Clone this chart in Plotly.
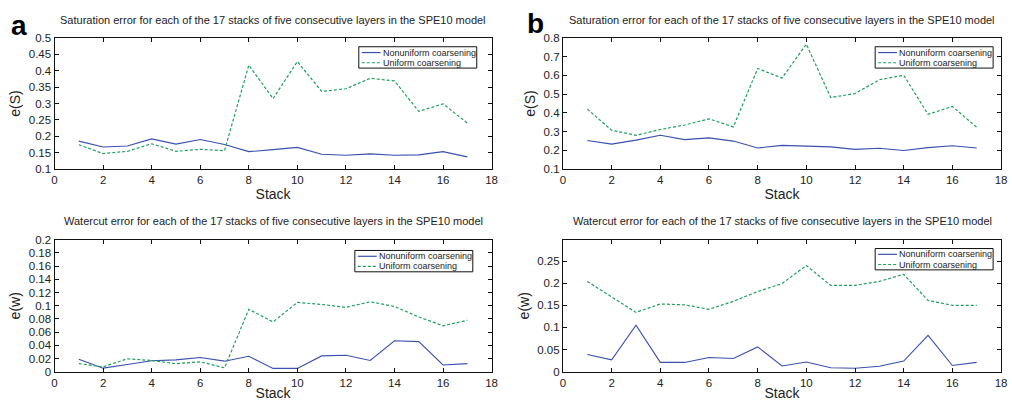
import plotly.graph_objects as go

stacks = list(range(1, 18))

# Saturation error, panel a
sat_a_nonuniform = [0.185, 0.167, 0.170, 0.192, 0.176, 0.190, 0.175, 0.153, 0.159, 0.166,
                    0.145, 0.142, 0.146, 0.142, 0.143, 0.153, 0.137]
sat_a_uniform = [0.174, 0.147, 0.154, 0.177, 0.154, 0.160, 0.156, 0.417, 0.315, 0.428,
                 0.337, 0.345, 0.377, 0.369, 0.276, 0.299, 0.240]

# Saturation error, panel b
sat_b_nonuniform = [0.252, 0.233, 0.254, 0.280, 0.257, 0.266, 0.249, 0.212, 0.226, 0.224,
                    0.218, 0.205, 0.211, 0.199, 0.214, 0.224, 0.212]
sat_b_uniform = [0.420, 0.307, 0.280, 0.311, 0.335, 0.368, 0.325, 0.637, 0.586, 0.767,
                 0.482, 0.503, 0.577, 0.601, 0.392, 0.434, 0.323]

# Watercut error, panel a
wc_a_nonuniform = [0.019, 0.0054, 0.011, 0.0167, 0.018, 0.0216, 0.016, 0.0235, 0.005, 0.005,
                   0.024, 0.025, 0.017, 0.047, 0.0456, 0.0103, 0.0123]
wc_a_uniform = [0.0123, 0.0074, 0.0196, 0.017, 0.0123, 0.015, 0.0059, 0.0946, 0.0755, 0.105,
                0.102, 0.0975, 0.106, 0.099, 0.083, 0.0696, 0.078]

# Watercut error, panel b
wc_b_nonuniform = [0.039, 0.027, 0.105, 0.021, 0.021, 0.032, 0.030, 0.056, 0.013, 0.022,
                   0.009, 0.008, 0.0125, 0.024, 0.082, 0.014, 0.021]
wc_b_uniform = [0.204, 0.168, 0.134, 0.153, 0.151, 0.141, 0.159, 0.181, 0.199, 0.240,
                0.195, 0.195, 0.204, 0.220, 0.161, 0.150, 0.150]

series_names = ["Nonuniform coarsening", "Uniform coarsening"]
sat_title = "Saturation error for each of the 17 stacks of five consecutive layers in the SPE10 model"
wc_title = "Watercut error for each of the 17 stacks of five consecutive layers in the SPE10 model"

BLUE = "#3a4fae"
GREEN = "#1f9e5e"
DASH = "3px,2px"
FONT = "Liberation Sans, Arial, Helvetica, sans-serif"
W, H = 1012, 401

# (x-axis id, y-axis id, nonuniform, uniform, y range, y ticks, y title, title)
panels = [
    ("x", "y", sat_a_nonuniform, sat_a_uniform, [0.1, 0.5],
     [0.1, 0.15, 0.2, 0.25, 0.3, 0.35, 0.4, 0.45, 0.5], "e(S)", sat_title),
    ("x2", "y2", sat_b_nonuniform, sat_b_uniform, [0.1, 0.8],
     [0.1, 0.2, 0.3, 0.4, 0.5, 0.6, 0.7, 0.8], "e(S)", sat_title),
    ("x3", "y3", wc_a_nonuniform, wc_a_uniform, [0, 0.2],
     [0, 0.02, 0.04, 0.06, 0.08, 0.1, 0.12, 0.14, 0.16, 0.18, 0.2], "e(w)", wc_title),
    ("x4", "y4", wc_b_nonuniform, wc_b_uniform, [0, 0.298],
     [0, 0.05, 0.1, 0.15, 0.2, 0.25], "e(w)", wc_title),
]

# plot-area boxes in pixels: left, right, top, bottom
boxes = [(52, 493, 33, 168), (565, 1007, 33, 168), (52, 493, 241, 377), (565, 1007, 241, 377)]
# legend boxes in pixels: left, top (width/height shared)
legend_boxes = [(359, 42), (880, 42), (355, 252), (880, 250)]
LEG_W, LEG_H = 119, 22


def px(x):
    return x / W


def py(y):
    return 1 - y / H


fig = go.Figure()
layout = dict(
    width=W, height=H,
    margin=dict(l=0, r=0, t=0, b=0),
    paper_bgcolor="white", plot_bgcolor="white",
    font=dict(family=FONT, size=11, color="#222"),
    showlegend=False,
)
annotations = []
shapes = []

for i, (xa, ya, nonu, uni, yr, yt, ytitle, title) in enumerate(panels):
    fig.add_trace(go.Scatter(x=stacks, y=nonu, mode="lines", name=series_names[0],
                             line=dict(color=BLUE, width=1.1), xaxis=xa, yaxis=ya))
    fig.add_trace(go.Scatter(x=stacks, y=uni, mode="lines", name=series_names[1],
                             line=dict(color=GREEN, width=1.2, dash=DASH),
                             xaxis=xa, yaxis=ya))
    l, r, t, b = boxes[i]
    suffix = "" if i == 0 else str(i + 1)
    common = dict(showline=True, linecolor="#111", linewidth=1.2, mirror="ticks",
                  ticks="inside", ticklen=4, tickcolor="#111", showgrid=False,
                  zeroline=False, tickfont=dict(size=11.5, color="#222"))
    layout["xaxis" + suffix] = dict(domain=[px(l), px(r)], range=[0, 18],
                                    tickvals=list(range(0, 19, 2)), anchor=ya,
                                    title=dict(text="Stack", font=dict(size=14), standoff=2),
                                    **common)
    layout["yaxis" + suffix] = dict(domain=[py(b), py(t)], range=yr, tickvals=yt, anchor=xa,
                                    title=dict(text=ytitle, font=dict(size=14), standoff=4),
                                    **common)
    annotations.append(dict(text=title, x=px((l + r) / 2), y=py(t - 19),
                            xref="paper", yref="paper", xanchor="center", yanchor="middle",
                            showarrow=False, font=dict(size=11, color="#222")))

    # legend: framed box with line samples and labels
    lx, ly = legend_boxes[i]
    shapes.append(dict(type="rect", xref="paper", yref="paper",
                       x0=px(lx), x1=px(lx + LEG_W), y0=py(ly + LEG_H), y1=py(ly),
                       line=dict(color="#111", width=1), fillcolor="white", layer="above"))
    for k, (name, col, dash) in enumerate(zip(series_names, [BLUE, GREEN], ["solid", DASH])):
        yy = ly + 6 + 10.5 * k
        shapes.append(dict(type="line", xref="paper", yref="paper",
                           x0=px(lx + 3), x1=px(lx + 22), y0=py(yy), y1=py(yy),
                           line=dict(color=col, width=1.2, dash=dash), layer="above"))
        annotations.append(dict(text=name, x=px(lx + 22), y=py(yy), xref="paper", yref="paper",
                                xanchor="left", yanchor="middle", showarrow=False,
                                font=dict(size=9, color="#222")))

annotations.append(dict(text="<b>a</b>", x=px(6), y=py(20), xref="paper", yref="paper",
                        xanchor="left", yanchor="middle", showarrow=False,
                        font=dict(size=28, color="black")))
annotations.append(dict(text="<b>b</b>", x=px(527), y=py(18), xref="paper", yref="paper",
                        xanchor="left", yanchor="middle", showarrow=False,
                        font=dict(size=28, color="black")))

layout["annotations"] = annotations
layout["shapes"] = shapes
fig.update_layout(**layout)
fig.write_html("out.html")
